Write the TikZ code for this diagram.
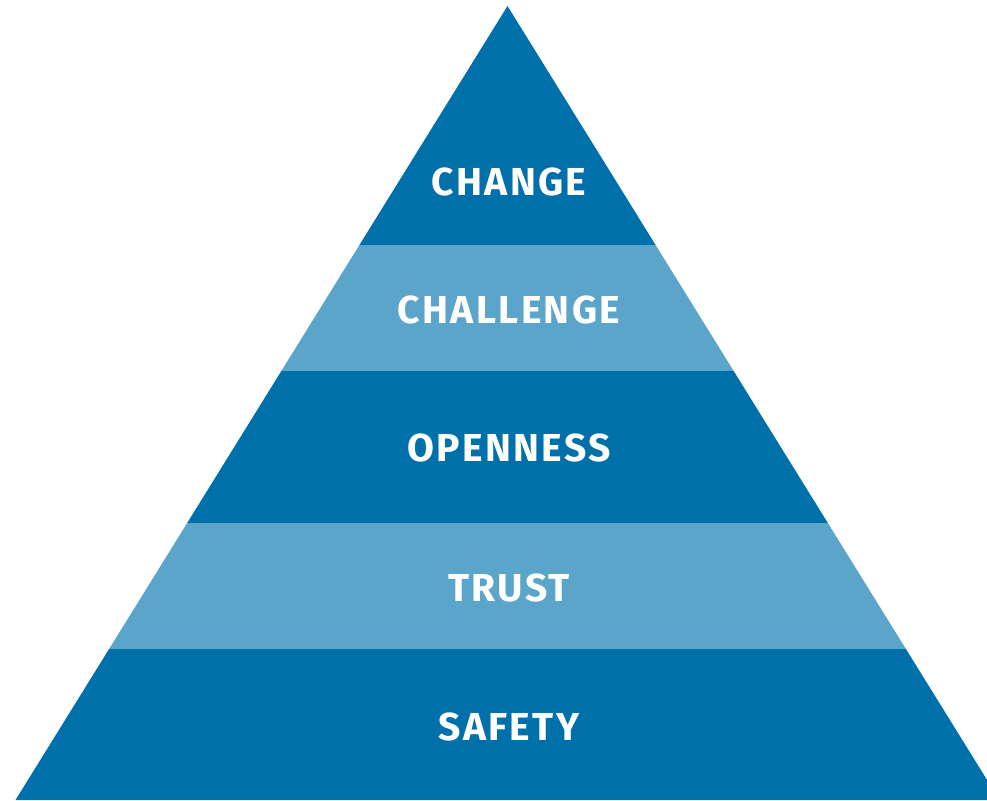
\documentclass[tikz,border=0pt]{standalone}
\usepackage{fontspec}
\setmainfont{Fira Sans}[LetterSpace=6]
\definecolor{darkband}{RGB}{0,112,170}
\definecolor{lightband}{RGB}{91,164,202}
\tikzset{
  lbl/.style={text=white, font=\fontsize{39}{41}\selectfont\bfseries, inner sep=0pt, anchor=center},
}
\begin{document}
\begin{tikzpicture}[x=1pt,y=-1pt]
\useasboundingbox (0,0) rectangle (987,800);
\clip (0,0) rectangle (987,800);
\coordinate (apex) at (507.5,6);
\coordinate (bl) at (15.5,800);
\coordinate (br) at (999.5,800);
% helper: x on left/right edge for given y
\def\lx#1{507.5-0.6196*(#1-6)}
\def\rx#1{507.5+0.6196*(#1-6)}
\fill[darkband] (apex) -- ({\lx{245.5}},245.5) -- ({\rx{245.5}},245.5) -- cycle;
\fill[lightband] ({\lx{245.5}},245.5) -- ({\rx{245.5}},245.5) -- ({\rx{371}},371) -- ({\lx{371}},371) -- cycle;
\fill[darkband] ({\lx{371}},371) -- ({\rx{371}},371) -- ({\rx{523.5}},523.5) -- ({\lx{523.5}},523.5) -- cycle;
\fill[lightband] ({\lx{523.5}},523.5) -- ({\rx{523.5}},523.5) -- ({\rx{649}},649) -- ({\lx{649}},649) -- cycle;
\fill[darkband] ({\lx{649}},649) -- ({\rx{649}},649) -- (br) -- (bl) -- cycle;
\node[lbl] (change) at (509,182) {CHANGE};
\node[lbl] (challenge) at (509,310) {CHALLENGE};
\node[lbl] (openness) at (509,448) {OPENNESS};
\node[lbl] (trust) at (509,588) {TRUST};
\node[lbl] (safety) at (509,727) {SAFETY};
\end{tikzpicture}
\end{document}
